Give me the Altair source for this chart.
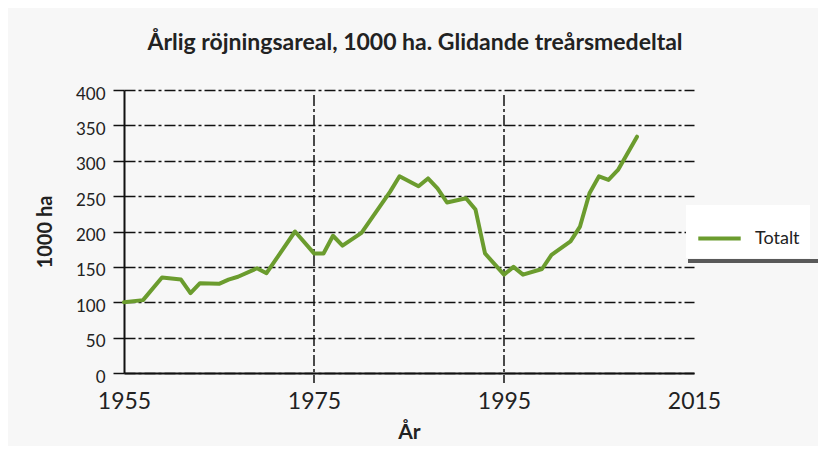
import altair as alt
import pandas as pd

# Data (3-year moving average, 1000 ha)
years = [1955, 1957, 1959, 1961, 1962, 1963, 1965, 1966, 1967, 1969, 1970, 1973,
         1975, 1976, 1977, 1978, 1980, 1983, 1984, 1986, 1987, 1988, 1989, 1991,
         1992, 1993, 1995, 1996, 1997, 1999, 2000, 2002, 2003, 2004, 2005, 2006,
         2007, 2009]
values = [100, 103, 135, 132, 113, 127, 126, 132, 136, 148, 141, 200,
          169, 169, 194, 180, 198, 256, 278, 264, 275, 261, 241, 247,
          231, 169, 139, 150, 139, 147, 167, 186, 207, 254, 278, 273,
          287, 334]
series_name = "Totalt"
x_ticks = [1955, 1975, 1995, 2015]
x_grid_years = [1975, 1995]
y_ticks = [0, 50, 100, 150, 200, 250, 300, 350, 400]

df = pd.DataFrame({"year": years, "value": values, "serie": series_name})
grid_df = pd.DataFrame({"year": x_grid_years})

FONT = "Lato"
GREEN = "#6b9c2e"
DASH = [11, 3, 3, 3]
W, H = 570, 283

x_scale = alt.Scale(domain=[1955, 2015], nice=False)
y_scale = alt.Scale(domain=[0, 400], nice=False)

vgrid = alt.Chart(grid_df).mark_rule(color="#111", strokeWidth=1.5, strokeDash=DASH).encode(
    x=alt.X("year:Q", scale=x_scale),
    y=alt.value(5),
    y2=alt.value(H + 10),
)

line = alt.Chart(df).mark_line(strokeWidth=4, strokeJoin="round", strokeCap="round").encode(
    x=alt.X("year:Q", scale=x_scale,
            axis=alt.Axis(values=x_ticks, format="d", grid=False, ticks=False,
                          labelFlush=False, labelFont=FONT, labelFontSize=23,
                          labelColor="#222", labelPadding=17,
                          domainColor="#111", domainWidth=2,
                          title="År", titleFont=FONT, titleFontSize=21,
                          titleFontWeight="bold", titleColor="#222", titlePadding=8)),
    y=alt.Y("value:Q", scale=y_scale,
            axis=alt.Axis(values=y_ticks, grid=True, gridColor="#111", gridWidth=1.5,
                          gridDash=DASH, tickColor="#111", tickSize=11, tickWidth=1.5,
                          tickDash=DASH, domainColor="#111", domainWidth=2,
                          labelFont=FONT, labelFontSize=17, labelColor="#222",
                          labelPadding=8, labelOffset=4,
                          title="1000 ha", titleFont=FONT, titleFontSize=20,
                          titleFontWeight="bold", titleColor="#222", titlePadding=20)),
    color=alt.Color("serie:N",
                    scale=alt.Scale(domain=[series_name], range=[GREEN]),
                    legend=alt.Legend(orient="none", legendX=562, legendY=115, title=None,
                                      fillColor="white", padding=10,
                                      symbolType="stroke", symbolSize=1800,
                                      symbolStrokeWidth=4, labelFont=FONT,
                                      labelFontSize=18, labelColor="#222",
                                      labelOffset=12)),
)

shadow = alt.Chart(grid_df).mark_rule(color="#4a4a4a", strokeWidth=4, opacity=0.7).encode(
    x=alt.value(564), x2=alt.value(702), y=alt.value(171),
)

chart = alt.layer(vgrid, line, shadow).properties(
    width=W, height=H,
    title=alt.TitleParams("Årlig röjningsareal, 1000 ha. Glidande treårsmedeltal",
                          font=FONT, fontSize=23, fontWeight="bold", color="#222",
                          anchor="middle", offset=30, dx=6),
    autosize=alt.AutoSizeParams(type="none"),
    padding={"left": 116, "top": 82, "right": 124, "bottom": 73},
    background="#f7f7f7",
).configure_view(stroke=None)

chart.save("out.html", embed_options={"renderer": "svg", "actions": False})
